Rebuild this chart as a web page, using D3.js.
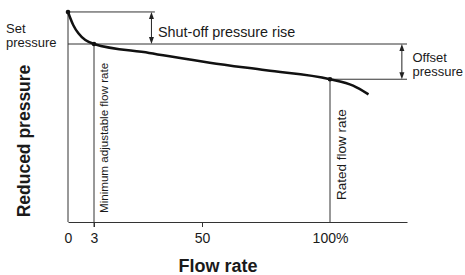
<!DOCTYPE html>
<html>
<head>
<meta charset="utf-8">
<script src="https://cdn.jsdelivr.net/npm/d3@7"></script>
<style>
  body { margin: 0; background: #fff; }
  svg { font-family: "Liberation Sans", Arial, Helvetica, sans-serif; }
</style>
</head>
<body>
<script>
// data (schematic flow rate vs reduced pressure, set pressure = 100)
var flowRate = [0, 0.6, 1.2, 2, 3, 27, 53, 75, 100, 109, 115];
var pressure = [118, 110.7, 106, 102.2, 100, 95, 89.5, 85.2, 80.2, 76.6, 71.7];
var tickValues = [0, 3, 50, 100];
var tickLabels = ["0", "3", "50", "100%"];
var setPressure = 100;
var shutOffPressure = 118;
var ratedPressure = 80.2;
var minFlow = 3;
var ratedFlow = 100;

var svgWidth = 465;
var svgHeight = 275;

var svg = d3.select("body")
  .append("svg")
  .attr("width", svgWidth)
  .attr("height", svgHeight);

// x is a schematic, piecewise scale
var xScale = d3.scaleLinear()
  .domain([0, 3, 50, 100, 130])
  .range([68, 94, 202, 330, 407]);

var yScale = d3.scaleLinear()
  .domain([0, 100])
  .range([222, 44]);

var lineColor = "#333";
var textColor = "#1a1a1a";

// x axis
var xAxis = d3.axisBottom(xScale)
  .tickValues(tickValues)
  .tickSizeOuter(0)
  .tickSizeInner(5)
  .tickFormat(function(d, i) { return tickLabels[i]; });

var xg = svg.append("g")
  .attr("transform", `translate(0, ${yScale(0)})`)
  .call(xAxis);
xg.select(".domain").attr("stroke", lineColor);
xg.selectAll(".tick line")
  .attr("stroke", lineColor)
  .attr("y2", function(d) { return (d === 3 || d === 50) ? 5 : 0; });
xg.selectAll(".tick text")
  .attr("dy", 0)
  .attr("y", 21)
  .attr("fill", textColor)
  .style("font-size", "14px")
  .style("font-family", "'Liberation Sans', Arial, sans-serif");

// y axis (plain line)
svg.append("line")
  .attr("x1", xScale(0)).attr("x2", xScale(0))
  .attr("y1", yScale(shutOffPressure) - 2).attr("y2", yScale(0))
  .attr("stroke", lineColor);

// reference lines
function hline(x0, x1, p) {
  svg.append("line")
    .attr("x1", xScale(x0)).attr("x2", xScale(x1))
    .attr("y1", yScale(p)).attr("y2", yScale(p))
    .attr("stroke", lineColor).attr("stroke-width", 1);
}
hline(0, 130, setPressure);
hline(0, 29.5, shutOffPressure);
hline(ratedFlow, 130, ratedPressure);

function vline(f, p, extra) {
  svg.append("line")
    .attr("x1", xScale(f)).attr("x2", xScale(f))
    .attr("y1", yScale(p)).attr("y2", yScale(0) + extra)
    .attr("stroke", lineColor).attr("stroke-width", 1);
}
vline(minFlow, setPressure, 5);
vline(ratedFlow, ratedPressure, 0);

// double arrows
function dblArrow(f, p0, p1) {
  var x = xScale(f), y0 = yScale(p0), y1 = yScale(p1);
  svg.append("line")
    .attr("x1", x).attr("x2", x)
    .attr("y1", y0 + 4).attr("y2", y1 - 4)
    .attr("stroke", "#222");
  svg.append("path")
    .attr("d", `M${x},${y0} L${x - 2.5},${y0 + 7} L${x + 2.5},${y0 + 7}Z`)
    .attr("fill", "#222");
  svg.append("path")
    .attr("d", `M${x},${y1} L${x - 2.5},${y1 - 7} L${x + 2.5},${y1 - 7}Z`)
    .attr("fill", "#222");
}
dblArrow(28, shutOffPressure, setPressure);
dblArrow(128, setPressure, ratedPressure);

// curve
var pts = flowRate.map(function(f, i) { return [f, pressure[i]]; });
var line = d3.line()
  .x(function(d) { return xScale(d[0]); })
  .y(function(d) { return yScale(d[1]); })
  .curve(d3.curveMonotoneX);

svg.append("path")
  .datum(pts)
  .attr("d", line)
  .attr("fill", "none")
  .attr("stroke", "#111")
  .attr("stroke-width", 2.5);

// dots
svg.selectAll("circle.pt")
  .data([[0, shutOffPressure], [minFlow, setPressure], [ratedFlow, ratedPressure]])
  .enter().append("circle")
  .attr("class", "pt")
  .attr("cx", function(d) { return xScale(d[0]); })
  .attr("cy", function(d) { return yScale(d[1]); })
  .attr("r", 2.3)
  .attr("fill", "#111");

// texts
function label(x, y, str, size, weight) {
  return svg.append("text")
    .attr("x", x).attr("y", y)
    .attr("fill", textColor)
    .style("font-size", size + "px")
    .style("font-weight", weight || "normal")
    .text(str);
}
label(6, 33, "Set", 13);
label(6, 46.5, "pressure", 13);
label(158, 36.5, "Shut-off pressure rise", 14.4);
label(412.5, 61.5, "Offset", 13);
label(412.5, 76, "pressure", 13);

label(218, 272, "Flow rate", 18, "bold").attr("text-anchor", "middle");

svg.append("text")
  .attr("transform", "translate(30, 141) rotate(-90)")
  .attr("text-anchor", "middle")
  .attr("fill", textColor)
  .style("font-size", "17.5px")
  .style("font-weight", "bold")
  .text("Reduced pressure");

svg.append("text")
  .attr("transform", `translate(${xScale(minFlow) + 14}, 213) rotate(-90)`)
  .attr("fill", textColor)
  .style("font-size", "11.6px")
  .text("Minimum adjustable flow rate");

svg.append("text")
  .attr("transform", `translate(${xScale(ratedFlow) + 16}, 200) rotate(-90)`)
  .attr("fill", textColor)
  .style("font-size", "13.5px")
  .text("Rated flow rate");
</script>
</body>
</html>
